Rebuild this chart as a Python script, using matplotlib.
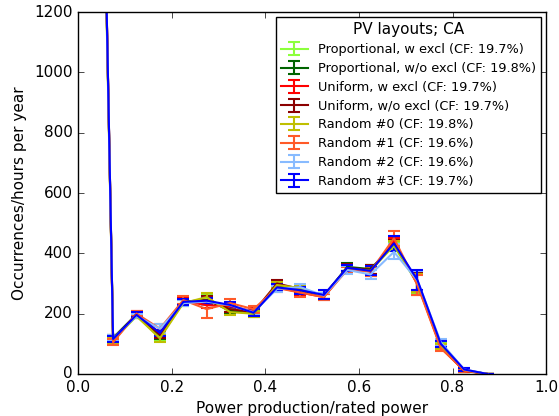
import matplotlib
matplotlib.use('Agg')
import matplotlib.pyplot as plt

# bin centres (power production / rated power)
bins = [0.025, 0.075, 0.125, 0.175, 0.225, 0.275, 0.325, 0.375, 0.425,
        0.475, 0.525, 0.575, 0.625, 0.675, 0.725, 0.775, 0.825, 0.875]

labels = ['Proportional, w excl (CF: 19.7%)',
          'Proportional, w/o excl (CF: 19.8%)',
          'Uniform, w excl (CF: 19.7%)',
          'Uniform, w/o excl (CF: 19.7%)',
          'Random #0 (CF: 19.8%)',
          'Random #1 (CF: 19.6%)',
          'Random #2 (CF: 19.6%)',
          'Random #3 (CF: 19.7%)']
colors = ['#8cff3c', '#006400', '#ff0000', '#8b0000',
          '#bfbf00', '#ff5a28', '#88bbff', '#0000ff']

prop_w = [4000, 112, 192, 122, 236, 250, 215, 205, 292, 280, 258, 350, 345, 425, 300, 95, 12, 0]
prop_wo = [4050, 120, 198, 128, 240, 245, 210, 200, 295, 278, 258, 355, 348, 430, 305, 92, 13, 0]
uni_w = [4100, 108, 200, 135, 242, 228, 225, 208, 288, 270, 255, 348, 340, 440, 298, 88, 10, 0]
uni_wo = [4080, 118, 195, 130, 238, 245, 215, 205, 300, 282, 260, 352, 345, 432, 305, 90, 12, 0]
rand0 = [4000, 112, 192, 118, 235, 255, 205, 200, 295, 285, 258, 350, 342, 428, 302, 92, 12, 0]
rand1 = [4100, 105, 200, 150, 245, 215, 235, 215, 285, 270, 255, 345, 340, 450, 295, 85, 12, 0]
rand2 = [4050, 118, 192, 150, 235, 240, 228, 205, 282, 288, 260, 345, 330, 405, 310, 105, 15, 0]
rand3 = [4100, 116, 196, 136, 239, 243, 229, 203, 287, 278, 262, 352, 342, 433, 312, 100, 15, 0]

err_prop_w = [40, 10, 8, 12, 10, 12, 10, 10, 10, 10, 10, 12, 15, 12, 30, 8, 4, 0]
err_prop_wo = [40, 10, 8, 12, 10, 12, 10, 12, 10, 10, 10, 12, 15, 12, 32, 8, 4, 0]
err_uni_w = [40, 10, 8, 10, 10, 10, 10, 10, 10, 10, 10, 12, 15, 12, 35, 8, 4, 0]
err_uni_wo = [40, 10, 8, 10, 10, 14, 10, 10, 10, 10, 10, 12, 15, 12, 32, 8, 4, 0]
err_rand0 = [40, 12, 8, 12, 10, 14, 10, 10, 10, 10, 10, 12, 15, 12, 30, 8, 4, 0]
err_rand1 = [40, 10, 8, 15, 12, 30, 15, 12, 12, 14, 10, 10, 15, 25, 33, 8, 4, 0]
err_rand2 = [40, 10, 8, 15, 10, 12, 12, 10, 10, 12, 10, 12, 15, 25, 30, 12, 4, 0]
err_rand3 = [40, 10, 8, 10, 10, 10, 10, 12, 10, 12, 15, 10, 15, 25, 32, 10, 4, 0]

series = [prop_w, prop_wo, uni_w, uni_wo, rand0, rand1, rand2, rand3]
errors = [err_prop_w, err_prop_wo, err_uni_w, err_uni_wo,
          err_rand0, err_rand1, err_rand2, err_rand3]

plt.style.use('classic')
plt.rcParams['figure.facecolor'] = 'white'
plt.rcParams['savefig.facecolor'] = 'white'

fig = plt.figure(figsize=(5.59, 4.16), dpi=100)
ax = fig.add_axes([0.1395, 0.101, 0.8375, 0.870])

for vals, err, col, lab in zip(series, errors, colors, labels):
    ax.errorbar(bins, vals, yerr=err, color=col, label=lab,
                linewidth=1.5, elinewidth=1.5, capsize=4, capthick=1.5)

ax.set_xlim(0, 1.0)
ax.set_ylim(0, 1200)
ax.set_xlabel('Power production/rated power', fontsize=11)
ax.set_ylabel('Occurrences/hours per year', fontsize=11)
ax.tick_params(labelsize=11)

leg = ax.legend(loc='upper right', fontsize=9.3, numpoints=1, labelspacing=0.45,
                handlelength=2.1, handletextpad=0.75,
                title='PV layouts; CA', borderaxespad=0.4)
leg.get_title().set_fontsize(11)

fig.savefig('out.png', dpi=100)
